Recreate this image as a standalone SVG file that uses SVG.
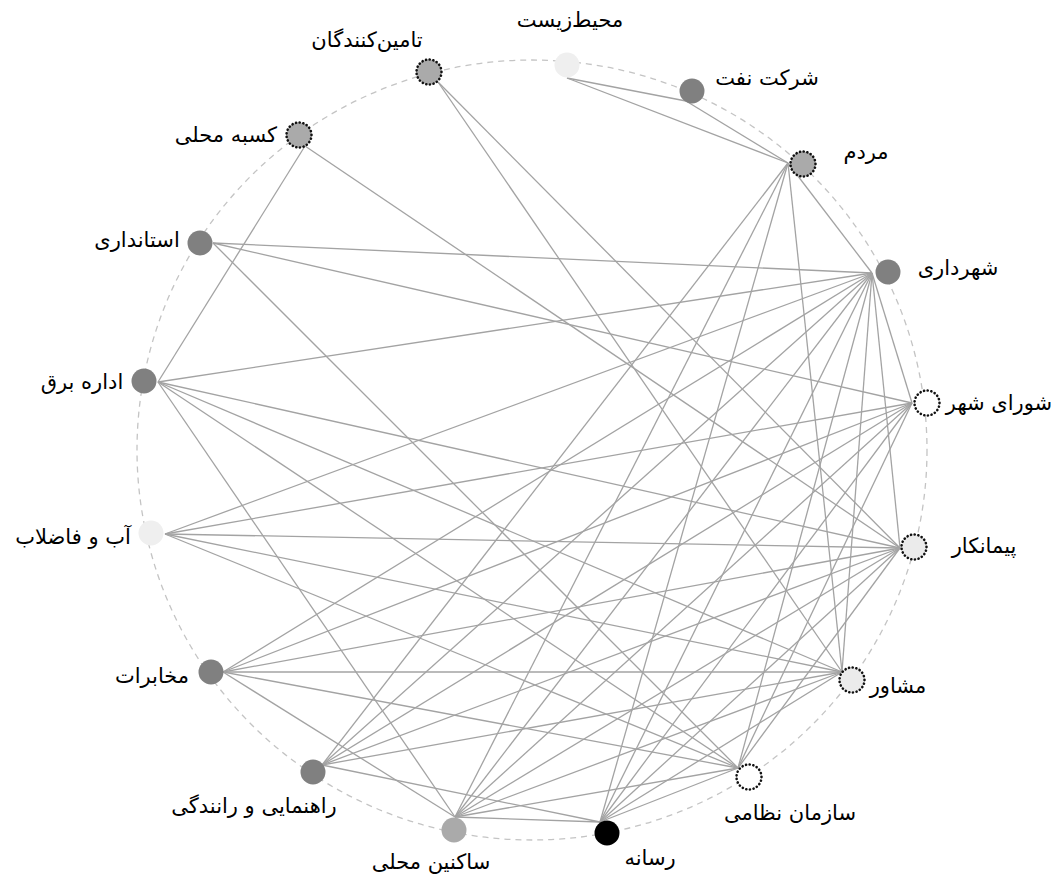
<svg xmlns="http://www.w3.org/2000/svg" width="1059" height="882" viewBox="0 0 1059 882">
<style>
.e{stroke:#a3a3a3;stroke-width:1.3;fill:none}
.ring{fill:none;stroke:#c4c4c4;stroke-width:1.3;stroke-dasharray:6 5}
.d{fill:#808080}
.m{fill:#aaaaaa}
.l{fill:#efefef}
.b{fill:#000}
.dot{stroke:#111;stroke-width:2.6;stroke-dasharray:0.1 3.6;stroke-linecap:round}
.w{fill:#fff}
.le{fill:#ebebeb}
text{font-family:"DejaVu Sans",sans-serif;font-size:21px;fill:#000;text-anchor:middle;direction:rtl}
</style>
<rect width="1059" height="882" fill="#fff"/>
<ellipse class="ring" cx="532" cy="450" rx="395" ry="390"/>
<g id="connectors">
<line class="e" x1="567" y1="78" x2="686" y2="101"/>
<line class="e" x1="567" y1="78" x2="788" y2="163"/>
<line class="e" x1="686" y1="101" x2="788" y2="163"/>
<line class="e" x1="788" y1="163" x2="872" y2="273"/>
<line class="e" x1="788" y1="163" x2="322" y2="765"/>
<line class="e" x1="788" y1="163" x2="455" y2="817"/>
<line class="e" x1="788" y1="163" x2="600" y2="822"/>
<line class="e" x1="788" y1="163" x2="842" y2="672"/>
<line class="e" x1="438" y1="82" x2="900" y2="548"/>
<line class="e" x1="438" y1="82" x2="842" y2="672"/>
<line class="e" x1="305" y1="146" x2="158" y2="382"/>
<line class="e" x1="305" y1="146" x2="900" y2="548"/>
<line class="e" x1="213" y1="243" x2="872" y2="273"/>
<line class="e" x1="213" y1="243" x2="912" y2="403"/>
<line class="e" x1="213" y1="243" x2="738" y2="768"/>
<line class="e" x1="158" y1="382" x2="872" y2="273"/>
<line class="e" x1="158" y1="382" x2="900" y2="548"/>
<line class="e" x1="158" y1="382" x2="842" y2="672"/>
<line class="e" x1="158" y1="382" x2="738" y2="768"/>
<line class="e" x1="158" y1="382" x2="455" y2="817"/>
<line class="e" x1="165" y1="534" x2="872" y2="273"/>
<line class="e" x1="165" y1="534" x2="912" y2="403"/>
<line class="e" x1="165" y1="534" x2="900" y2="548"/>
<line class="e" x1="165" y1="534" x2="842" y2="672"/>
<line class="e" x1="165" y1="534" x2="738" y2="768"/>
<line class="e" x1="223" y1="672" x2="872" y2="273"/>
<line class="e" x1="223" y1="672" x2="912" y2="403"/>
<line class="e" x1="223" y1="672" x2="900" y2="548"/>
<line class="e" x1="223" y1="672" x2="842" y2="672"/>
<line class="e" x1="223" y1="672" x2="738" y2="768"/>
<line class="e" x1="223" y1="672" x2="455" y2="817"/>
<line class="e" x1="872" y1="273" x2="912" y2="403"/>
<line class="e" x1="872" y1="273" x2="455" y2="817"/>
<line class="e" x1="872" y1="273" x2="600" y2="822"/>
<line class="e" x1="872" y1="273" x2="738" y2="768"/>
<line class="e" x1="872" y1="273" x2="842" y2="672"/>
<line class="e" x1="872" y1="273" x2="900" y2="548"/>
<line class="e" x1="872" y1="273" x2="322" y2="765"/>
<line class="e" x1="912" y1="403" x2="455" y2="817"/>
<line class="e" x1="912" y1="403" x2="600" y2="822"/>
<line class="e" x1="912" y1="403" x2="738" y2="768"/>
<line class="e" x1="912" y1="403" x2="322" y2="765"/>
<line class="e" x1="900" y1="548" x2="455" y2="817"/>
<line class="e" x1="900" y1="548" x2="600" y2="822"/>
<line class="e" x1="900" y1="548" x2="322" y2="765"/>
<line class="e" x1="900" y1="548" x2="738" y2="768"/>
<line class="e" x1="842" y1="672" x2="455" y2="817"/>
<line class="e" x1="842" y1="672" x2="600" y2="822"/>
<line class="e" x1="842" y1="672" x2="322" y2="765"/>
<line class="e" x1="738" y1="768" x2="455" y2="817"/>
<line class="e" x1="738" y1="768" x2="600" y2="822"/>
<line class="e" x1="322" y1="765" x2="600" y2="822"/>
<line class="e" x1="455" y1="817" x2="600" y2="822"/>
</g>
<g id="n-env"><circle class="l" cx="567" cy="65" r="12.5"/><text x="570" y="27">محیط‌زیست</text></g>
<g id="n-oil"><circle class="d" cx="692" cy="91" r="12.5"/><text x="767" y="85">شرکت نفت</text></g>
<g id="n-peo"><circle class="m" cx="803" cy="164" r="12.5"/><circle class="dot" cx="803" cy="164" r="12.5" fill="none"/><text x="866" y="159">مردم</text></g>
<g id="n-mun"><circle class="d" cx="888" cy="272" r="12.5"/><text x="958" y="275">شهرداری</text></g>
<g id="n-cou"><circle class="w" cx="927" cy="403" r="12.5"/><circle class="dot" cx="927" cy="403" r="12.5" fill="none"/><text x="999" y="410">شورای شهر</text></g>
<g id="n-con"><circle class="le" cx="914" cy="547" r="12.5"/><circle class="dot" cx="914" cy="547" r="12.5" fill="none"/><text x="984" y="553">پیمانکار</text></g>
<g id="n-adv"><circle class="le" cx="852" cy="680" r="12.5"/><circle class="dot" cx="852" cy="680" r="12.5" fill="none"/><text x="898" y="693">مشاور</text></g>
<g id="n-mil"><circle class="w" cx="749" cy="777" r="12.5"/><circle class="dot" cx="749" cy="777" r="12.5" fill="none"/><text x="790" y="820">سازمان نظامی</text></g>
<g id="n-med"><circle class="b" cx="607" cy="833" r="12.5"/><text x="650" y="865">رسانه</text></g>
<g id="n-res"><circle class="m" cx="454" cy="830" r="12.5"/><text x="431" y="869">ساکنین محلی</text></g>
<g id="n-trf"><circle class="d" cx="313" cy="772" r="12.5"/><text x="254" y="813">راهنمایی و رانندگی</text></g>
<g id="n-tel"><circle class="d" cx="211" cy="672" r="12.5"/><text x="152" y="683">مخابرات</text></g>
<g id="n-wat"><circle class="l" cx="151" cy="533" r="12.5"/><text x="73" y="544">آب و فاضلاب</text></g>
<g id="n-ele"><circle class="d" cx="144" cy="381" r="12.5"/><text x="82" y="389">اداره برق</text></g>
<g id="n-gov"><circle class="d" cx="200" cy="243" r="12.5"/><text x="137" y="247">استانداری</text></g>
<g id="n-shp"><circle class="m" cx="299" cy="135" r="12.5"/><circle class="dot" cx="299" cy="135" r="12.5" fill="none"/><text x="226" y="142">کسبه محلی</text></g>
<g id="n-sup"><circle class="m" cx="429" cy="72" r="12.5"/><circle class="dot" cx="429" cy="72" r="12.5" fill="none"/><text x="367" y="47">تامین‌کنندگان</text></g>
</svg>
